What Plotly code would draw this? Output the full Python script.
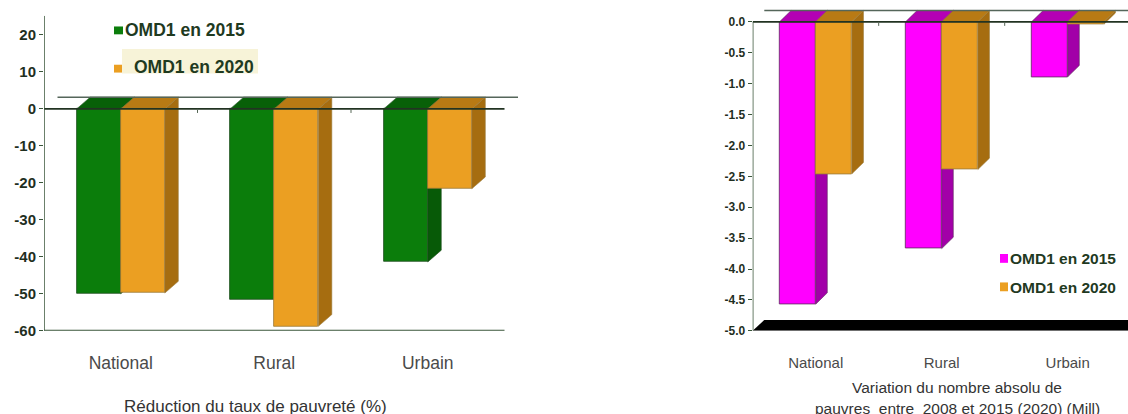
import plotly.graph_objects as go

# ---- data -------------------------------------------------------------
categories = ["National", "Rural", "Urbain"]

# Réduction du taux de pauvreté (%)
taux_2015 = [-50.0, -51.5, -41.4]
taux_2020 = [-49.8, -58.8, -21.6]
taux_ticks = [-60, -50, -40, -30, -20, -10, 0, 10, 20]
taux_ticktext = ["-60", "-50", "-40", "-30", "-20", "-10", "0", "10", "20"]

# Variation du nombre absolu de pauvres (millions)
pauvres_2015 = [-4.57, -3.67, -0.89]
pauvres_2020 = [-2.46, -2.39, -0.04]
pauvres_ticks = [-5.0, -4.5, -4.0, -3.5, -3.0, -2.5, -2.0, -1.5, -1.0, -0.5, 0.0]
pauvres_ticktext = ["-5.0", "-4.5", "-4.0", "-3.5", "-3.0", "-2.5", "-2.0",
                    "-1.5", "-1.0", "-0.5", "0.0"]

series_names = ["OMD1 en 2015", "OMD1 en 2020"]

# ---- styling ----------------------------------------------------------
W, H = 1128, 414
FONT = "Liberation Sans, Arial, sans-serif"
AXIS_COL = "#3a563a"
TICK_COL = "#1f2f1f"

GREEN = dict(front="#0b7d0b", side="#075a07", top="#086008", line="#1d4d1d")
ORANGE = dict(front="#eb9f22", side="#a66d10", top="#b87a14", line="#9a7a3a")
MAGENTA = dict(front="#ff00ff", side="#a200a8", top="#b400b4", line="#5a2a5a")

BAR_W = 0.287


def px(x):
    return x / W


def py(y):
    return 1 - y / H


def bold(labels):
    return [f"<b>{t}</b>" for t in labels]


fig = go.Figure()
shapes = []
annotations = []


def add_3d_group(values_a, values_b, cols_a, cols_b, xa, ya, dx, dy):
    """Front faces as bars, side and top faces as shapes under the bars."""
    for values, cols, off in ((values_a, cols_a, -BAR_W), (values_b, cols_b, 0.0)):
        for i, v in enumerate(values):
            x0 = i + off
            x1 = x0 + BAR_W
            shapes.append(dict(
                type="path", xref=xa, yref=ya, layer="between",
                path=f"M{x1},0 L{x1+dx},{dy} L{x1+dx},{v+dy} L{x1},{v} Z",
                fillcolor=cols["side"], line=dict(color=cols["line"], width=0.6)))
            shapes.append(dict(
                type="path", xref=xa, yref=ya, layer="between",
                path=f"M{x0},0 L{x1},0 L{x1+dx},{dy} L{x0+dx},{dy} Z",
                fillcolor=cols["top"], line=dict(color=cols["line"], width=0.6)))
        fig.add_trace(go.Bar(
            x=list(range(len(categories))), y=values, width=BAR_W, offset=off,
            marker=dict(color=cols["front"], line=dict(color=cols["line"], width=0.8)),
            xaxis=xa, yaxis=ya, showlegend=False, hoverinfo="skip"))


# ---- left chart: taux de pauvreté --------------------------------------
L_DX, L_DY = 0.088, 3.18
add_3d_group(taux_2015, taux_2020, GREEN, ORANGE, "x", "y", L_DX, L_DY)

# back edge of the zero plane, zero line, axes
shapes += [
    dict(type="line", xref="x", yref="y", x0=-0.5 + L_DX, x1=2.5 + L_DX, y0=L_DY, y1=L_DY,
         line=dict(color="#55665a", width=1.5), layer="above"),
    dict(type="line", xref="x", yref="y", x0=-0.5, x1=2.5, y0=0, y1=0,
         line=dict(color="#223322", width=1.6), layer="above"),
    dict(type="line", xref="x", yref="y", x0=-0.5, x1=2.5, y0=-60, y1=-60,
         line=dict(color=AXIS_COL, width=2), layer="above"),
    dict(type="line", xref="x", yref="y", x0=-0.5, x1=-0.5, y0=-60, y1=25.2,
         line=dict(color=AXIS_COL, width=1.5), layer="above"),
]
for b in (0.5, 1.5):
    shapes.append(dict(type="line", xref="x", yref="y", x0=b, x1=b, y0=0, y1=-1.1,
                       line=dict(color="#556655", width=1), layer="above"))

# ---- right chart: nombre absolu de pauvres ------------------------------
R_DX, R_DY = 0.092, 0.184
R_XMAX = -0.5 + (W - 752.7) / 126.0
# black floor of the plot
shapes.append(dict(
    type="path", xref="x2", yref="y2", layer="between",
    path=f"M-0.5,-5 L{R_XMAX + 0.5},-5 L{R_XMAX + 0.5},{-5 + 0.175} L{-0.5 + R_DX},{-5 + 0.175} Z",
    fillcolor="#000000", line=dict(width=0)))
add_3d_group(pauvres_2015, pauvres_2020, MAGENTA, ORANGE, "x2", "y2", R_DX, R_DY)

shapes += [
    dict(type="line", xref="x2", yref="y2", x0=-0.5 + R_DX, x1=R_XMAX + 0.5, y0=R_DY, y1=R_DY,
         line=dict(color="#55665a", width=1.5), layer="above"),
    dict(type="line", xref="x2", yref="y2", x0=-0.5, x1=R_XMAX + 0.5, y0=0, y1=0,
         line=dict(color="#223322", width=1.6), layer="above"),
    dict(type="line", xref="x2", yref="y2", x0=-0.5, x1=-0.5, y0=-5, y1=0,
         line=dict(color=AXIS_COL, width=1.5), layer="above"),
]
for b in (0.5, 1.5):
    shapes.append(dict(type="line", xref="x2", yref="y2", x0=b, x1=b, y0=0, y1=-0.065,
                       line=dict(color="#556655", width=1), layer="above"))

# ---- legends ------------------------------------------------------------
LEG_COL = "#1f3a1f"
# left legend
shapes += [
    dict(type="rect", xref="paper", yref="paper", x0=px(122), x1=px(258), y0=py(75), y1=py(50),
         fillcolor="#f7f3d8", line=dict(width=0), layer="below"),
    dict(type="rect", xref="paper", yref="paper", x0=px(114), x1=px(123), y0=py(35), y1=py(27),
         fillcolor=GREEN["front"], line=dict(width=0)),
    dict(type="rect", xref="paper", yref="paper", x0=px(114), x1=px(122), y0=py(74), y1=py(66),
         fillcolor=ORANGE["front"], line=dict(width=0)),
]
annotations += [
    dict(text=f"<b>{series_names[0]}</b>", x=px(123), y=py(31), xref="paper", yref="paper",
         xanchor="left", yanchor="middle", showarrow=False,
         font=dict(family=FONT, size=17.5, color=LEG_COL)),
    dict(text=f"<b>{series_names[1]}</b>", x=px(132), y=py(68), xref="paper", yref="paper",
         xanchor="left", yanchor="middle", showarrow=False,
         font=dict(family=FONT, size=17.5, color=LEG_COL)),
]
# right legend
shapes += [
    dict(type="rect", xref="paper", yref="paper", x0=px(1000), x1=px(1008), y0=py(268), y1=py(259),
         fillcolor=MAGENTA["front"], line=dict(width=0)),
    dict(type="rect", xref="paper", yref="paper", x0=px(1000), x1=px(1008), y0=py(297), y1=py(288),
         fillcolor=ORANGE["front"], line=dict(width=0)),
]
annotations += [
    dict(text=f"<b>{series_names[0]}</b>", x=px(1008), y=py(264), xref="paper", yref="paper",
         xanchor="left", yanchor="middle", showarrow=False,
         font=dict(family=FONT, size=15.5, color=LEG_COL)),
    dict(text=f"<b>{series_names[1]}</b>", x=px(1008), y=py(293), xref="paper", yref="paper",
         xanchor="left", yanchor="middle", showarrow=False,
         font=dict(family=FONT, size=15.5, color=LEG_COL)),
]

# ---- chart captions ------------------------------------------------------
annotations += [
    dict(text="Réduction du taux de pauvreté (%)", x=px(255), y=py(415), xref="paper", yref="paper",
         xanchor="center", yanchor="middle", showarrow=False,
         font=dict(family=FONT, size=17, color="#333333")),
    dict(text="Variation du nombre absolu de", x=px(957), y=py(395), xref="paper", yref="paper",
         xanchor="center", yanchor="middle", showarrow=False,
         font=dict(family=FONT, size=15.5, color="#333333")),
    dict(text="pauvres  entre  2008 et 2015 (2020) (Mill)", x=px(957), y=py(417), xref="paper",
         yref="paper", xanchor="center", yanchor="middle", showarrow=False,
         font=dict(family=FONT, size=15.5, color="#333333")),
]

# ---- axes ----------------------------------------------------------------
common_x = dict(showgrid=False, zeroline=False, showline=False, ticks="",
                tickvals=list(range(len(categories))), ticktext=categories,
                fixedrange=True)
common_y = dict(showgrid=False, zeroline=False, showline=False, ticks="outside",
                ticklen=4, tickcolor=AXIS_COL, tickwidth=1, fixedrange=True)

fig.update_layout(
    width=W, height=H,
    margin=dict(l=0, r=0, t=0, b=0),
    paper_bgcolor="white", plot_bgcolor="rgba(0,0,0,0)",
    barmode="overlay", bargap=0,
    showlegend=False,
    font=dict(family=FONT),
    xaxis=dict(common_x, domain=[px(44), px(44 + 3.12 * 153.5)], range=[-0.5, 2.62],
               anchor="y", ticklabelstandoff=20,
               tickfont=dict(family=FONT, size=17.5, color="#4a4a4a")),
    yaxis=dict(common_y, domain=[py(337.3), py(16)], range=[-60, 25.2], anchor="x",
               tickvals=taux_ticks, ticktext=bold(taux_ticktext),
               tickfont=dict(family=FONT, size=15, color=TICK_COL)),
    xaxis2=dict(common_x, domain=[px(752.7), 1.0], range=[-0.5, R_XMAX], anchor="y2",
                ticklabelstandoff=21,
                tickfont=dict(family=FONT, size=15, color="#4a4a4a")),
    yaxis2=dict(common_y, domain=[py(337.3), py(3.4)], range=[-5, 0.3], anchor="x2",
                tickvals=pauvres_ticks, ticktext=bold(pauvres_ticktext),
                tickfont=dict(family=FONT, size=12, color=TICK_COL)),
    shapes=shapes,
    annotations=annotations,
)

fig.write_html("out.html")
